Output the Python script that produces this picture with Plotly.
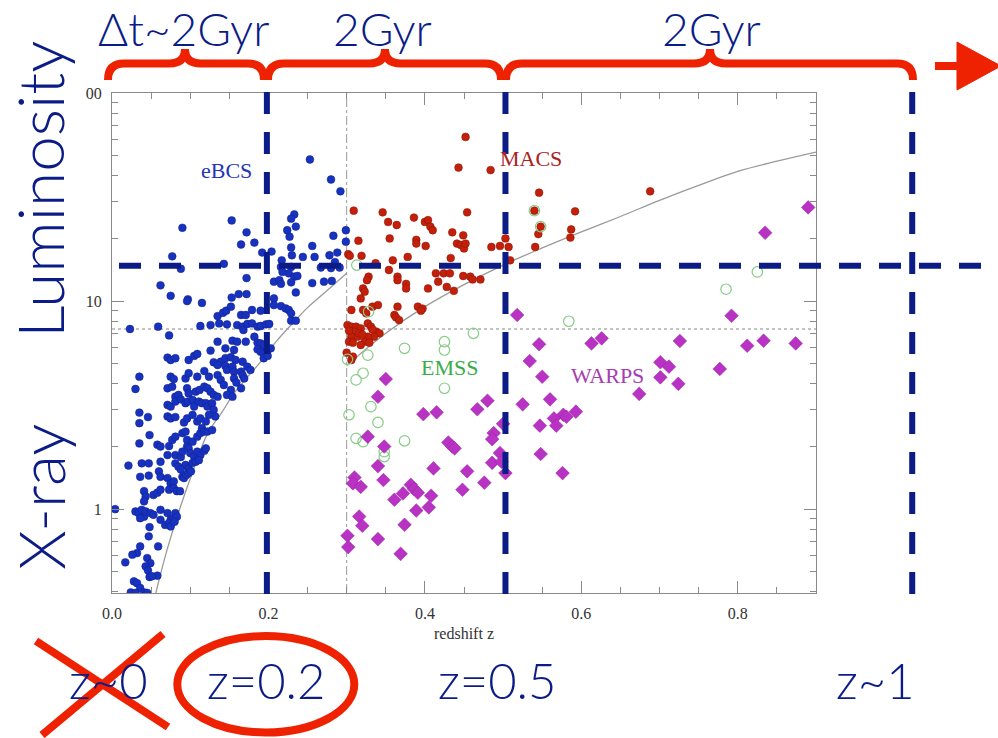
import math
import plotly.graph_objects as go

# ---------------- data (redshift z, L_X) ----------------
ebcs_points = [
    (0.253, 47.9), (0.280, 38.4), (0.292, 33.7), (0.090, 22.5), (0.153, 24.4), (0.233, 26.1), (0.229, 24.9),
    (0.235, 22.8), (0.224, 21.9), (0.172, 21.4), (0.165, 18.7), (0.182, 19.1), (0.227, 20.4), (0.256, 18.4),
    (0.283, 20.6), (0.299, 21.9), (0.299, 19.3), (0.229, 18.1), (0.192, 17.1), (0.204, 17.3), (0.077, 16.4),
    (0.088, 14.3), (0.143, 15.1), (0.217, 15.7), (0.230, 16.6), (0.244, 16.3), (0.259, 16.3), (0.278, 16.6),
    (0.288, 17.1), (0.285, 15.4), (0.280, 14.4), (0.267, 14.5), (0.291, 14.5), (0.229, 14.6), (0.226, 13.6),
    (0.233, 13.1), (0.237, 13.2), (0.216, 14.6), (0.218, 13.8), (0.172, 12.9), (0.207, 12.4), (0.214, 12.6),
    (0.216, 12.1), (0.229, 12.3), (0.256, 12.2), (0.271, 12.4), (0.281, 12.5), (0.062, 11.9), (0.075, 10.6),
    (0.097, 10.2), (0.153, 10.4), (0.162, 10.8), (0.172, 10.8), (0.235, 11.0), (0.207, 10.3),
    (0.096, 10.0), (0.115, 9.8), (0.135, 8.47), (0.142, 8.79), (0.146, 8.99), (0.152, 9.4), (0.165, 8.57),
    (0.171, 8.57), (0.179, 9.06), (0.190, 8.99), (0.207, 9.57), (0.216, 9.46), (0.222, 9.22), (0.226, 9.06),
    (0.229, 8.73), (0.229, 8.05), (0.235, 8.05),
    (0.023, 7.34), (0.059, 7.53), (0.113, 7.59), (0.126, 7.67), (0.137, 7.81), (0.147, 7.73), (0.160, 7.67),
    (0.167, 7.53), (0.168, 7.26), (0.173, 7.76), (0.179, 7.81), (0.186, 7.53), (0.190, 7.59), (0.197, 7.73),
    (0.201, 7.76),
    (0.073, 6.84), (0.135, 6.38), (0.154, 6.45), (0.160, 6.38), (0.171, 6.38), (0.182, 6.74), (0.186, 6.31),
    (0.190, 6.26), (0.194, 6.15),
    (0.126, 5.78), (0.145, 5.93), (0.156, 5.82), (0.186, 5.86), (0.190, 5.71), (0.194, 5.61), (0.199, 5.82),
    (0.203, 5.93),
    (0.071, 5.35), (0.075, 5.21), (0.081, 5.31), (0.098, 5.21), (0.105, 5.45), (0.109, 5.57), (0.139, 5.11),
    (0.145, 5.31), (0.152, 5.37), (0.158, 5.21), (0.167, 5.11), (0.173, 4.84), (0.177, 4.67), (0.194, 5.31),
    (0.199, 5.45),
    (0.130, 5.08), (0.135, 4.93), (0.145, 4.88), (0.147, 4.67), (0.154, 4.84), (0.156, 4.58), (0.165, 4.58),
    (0.167, 4.41), (0.169, 4.25),
    (0.035, 4.33), (0.030, 3.78), (0.075, 4.33), (0.079, 4.22), (0.094, 4.25), (0.098, 4.5), (0.109, 4.33),
    (0.118, 4.61), (0.124, 4.33), (0.135, 4.41), (0.139, 4.18), (0.143, 3.95), (0.156, 4.25), (0.159, 4.06),
    (0.165, 3.81), (0.152, 3.74), (0.147, 3.54), (0.154, 3.47),
    (0.071, 3.81), (0.077, 3.88), (0.081, 3.47), (0.085, 3.54), (0.096, 3.81), (0.098, 3.6), (0.107, 3.67),
    (0.112, 3.74), (0.118, 3.88), (0.122, 3.81), (0.126, 3.67), (0.130, 3.54), (0.135, 3.47),
    (0.071, 3.17), (0.075, 3.11), (0.081, 3.29), (0.088, 3.37), (0.094, 3.23), (0.097, 3.29), (0.103, 3.35),
    (0.105, 3.11), (0.111, 3.29), (0.115, 3.23), (0.120, 3.23), (0.122, 3.11), (0.128, 3.23), (0.130, 3.0),
    (0.132, 2.79),
    (0.035, 2.91), (0.046, 2.77), (0.035, 2.59), (0.071, 2.79), (0.075, 2.73), (0.081, 2.77), (0.092, 2.61),
    (0.096, 2.73), (0.103, 2.84), (0.109, 2.64), (0.113, 2.73), (0.120, 2.64), (0.124, 2.84),
    (0.048, 2.27), (0.035, 2.07), (0.058, 2.04), (0.062, 2.0), (0.073, 2.01), (0.077, 2.15), (0.081, 2.23),
    (0.090, 2.32), (0.094, 2.36), (0.096, 2.15), (0.096, 2.0), (0.103, 2.11), (0.109, 2.23), (0.113, 2.32),
    (0.115, 2.45), (0.118, 2.36), (0.122, 2.36), (0.128, 2.4),
    (0.081, 1.82), (0.088, 1.78), (0.071, 1.82), (0.081, 1.66), (0.090, 1.89), (0.098, 1.96), (0.100, 1.86),
    (0.105, 1.79), (0.109, 1.89), (0.113, 1.82), (0.118, 1.91), (0.120, 1.96),
    (0.021, 1.62), (0.038, 1.66), (0.047, 1.66), (0.062, 1.69), (0.085, 1.6), (0.094, 1.63), (0.098, 1.57),
    (0.103, 1.67), (0.107, 1.69), (0.111, 1.72),
    (0.036, 1.43), (0.047, 1.45), (0.060, 1.52), (0.062, 1.43), (0.071, 1.41), (0.075, 1.33), (0.079, 1.36),
    (0.088, 1.55), (0.090, 1.43), (0.092, 1.41), (0.095, 1.46), (0.098, 1.49), (0.101, 1.52),
    (0.041, 1.22), (0.043, 1.15), (0.041, 1.09), (0.053, 1.17), (0.058, 1.2), (0.062, 1.24), (0.073, 1.24),
    (0.079, 1.26), (0.083, 1.22), (0.087, 1.22),
    (0.004, 1.0), (0.030, 0.975), (0.034, 0.957), (0.038, 0.993), (0.041, 0.92), (0.043, 0.975), (0.049, 0.957),
    (0.053, 0.94), (0.062, 0.993), (0.071, 0.957), (0.075, 0.889), (0.079, 0.905), (0.081, 0.957), (0.083, 0.92),
    (0.036, 0.905), (0.048, 0.82), (0.062, 0.889), (0.068, 0.84), (0.073, 0.857), (0.075, 0.826), (0.080, 0.87),
    (0.036, 0.662), (0.059, 0.662), (0.047, 0.74), (0.045, 0.582), (0.049, 0.55), (0.032, 0.615), (0.026, 0.604),
    (0.017, 0.555), (0.043, 0.531), (0.046, 0.508), (0.048, 0.472), (0.058, 0.479), (0.051, 0.476),
    (0.028, 0.45), (0.032, 0.441), (0.036, 0.418), (0.024, 0.398), (0.030, 0.396), (0.041, 0.398), (0.045, 0.396),
]

macs_points = [
    (0.452, 61.5), (0.443, 43.8), (0.484, 42.6), (0.546, 33.2), (0.309, 27.2), (0.346, 26.7), (0.353, 24.0),
    (0.364, 23.2), (0.386, 25.2), (0.400, 24.0), (0.404, 24.5), (0.407, 22.8), (0.410, 21.9), (0.454, 26.7),
    (0.435, 21.4), (0.449, 20.7), (0.592, 27.0), (0.315, 19.5), (0.355, 20.0), (0.389, 19.7), (0.389, 18.9),
    (0.401, 18.4), (0.441, 18.9), (0.446, 18.6), (0.450, 17.9), (0.452, 18.9), (0.485, 18.2), (0.496, 18.4),
    (0.503, 20.0), (0.507, 18.2), (0.541, 18.2), (0.545, 21.0), (0.586, 20.2), (0.302, 16.8), (0.304, 16.5),
    (0.319, 16.5), (0.378, 16.3), (0.433, 16.1), (0.509, 15.7), (0.337, 15.2), (0.359, 15.7), (0.354, 14.1),
    (0.365, 13.1), (0.365, 12.6), (0.376, 12.1), (0.376, 11.5), (0.404, 11.5), (0.414, 13.6), (0.424, 13.6),
    (0.432, 13.6), (0.417, 12.4), (0.428, 11.7), (0.437, 11.2), (0.449, 13.2), (0.458, 13.1), (0.461, 12.7),
    (0.471, 12.7), (0.328, 13.1), (0.326, 12.6), (0.321, 11.5), (0.323, 11.1), (0.318, 10.3),
    (0.540, 27.2), (0.548, 22.8), (0.587, 22.1), (0.688, 33.7),
    (0.306, 9.06), (0.321, 9.06), (0.325, 8.73), (0.333, 9.4), (0.340, 9.57), (0.365, 9.4), (0.361, 8.57),
    (0.363, 8.35), (0.367, 8.1), (0.391, 9.4), (0.397, 9.2), (0.395, 8.99), (0.301, 7.67), (0.306, 7.53),
    (0.312, 7.53), (0.318, 7.39), (0.327, 7.81), (0.331, 7.53), (0.338, 7.13), (0.342, 7.0), (0.335, 6.74),
    (0.327, 6.74), (0.323, 6.38), (0.318, 6.15), (0.310, 7.13), (0.306, 6.74), (0.303, 6.38), (0.308, 6.31),
    (0.329, 6.31), (0.314, 6.74), (0.300, 5.65), (0.306, 5.21), (0.308, 5.41), (0.303, 7.2), (0.316, 7.0),
    (0.320, 6.9), (0.333, 7.3),
]

emss_points = [
    (0.301, 5.25), (0.327, 5.5), (0.312, 4.18), (0.321, 4.5), (0.331, 3.11), (0.340, 2.61), (0.303, 2.84),
    (0.312, 2.19), (0.321, 2.11), (0.348, 1.89), (0.348, 1.79), (0.374, 2.13), (0.374, 5.93), (0.425, 6.38),
    (0.425, 5.82), (0.462, 7.0), (0.425, 3.81), (0.584, 8.0), (0.313, 14.9), (0.540, 27.2), (0.548, 22.8),
    (0.825, 13.8), (0.785, 11.4), (0.328, 8.9),
]

warps_points = [
    (0.518, 8.57), (0.546, 6.2), (0.534, 5.15), (0.550, 4.33), (0.350, 4.22), (0.340, 3.47), (0.398, 2.86),
    (0.415, 2.92), (0.467, 3.02), (0.480, 3.32), (0.525, 3.19), (0.560, 3.37), (0.593, 2.94), (0.565, 2.73),
    (0.577, 2.84), (0.581, 2.78), (0.568, 2.52), (0.547, 2.52), (0.500, 2.57), (0.488, 2.32), (0.486, 2.17),
    (0.327, 2.23), (0.348, 2.0), (0.430, 2.09), (0.435, 2.0), (0.438, 1.96), (0.496, 1.86), (0.486, 1.67),
    (0.498, 1.69), (0.503, 1.49), (0.548, 1.84), (0.576, 1.49), (0.340, 1.61), (0.411, 1.57), (0.454, 1.52),
    (0.347, 1.38), (0.310, 1.42), (0.308, 1.33), (0.318, 1.28), (0.476, 1.34), (0.448, 1.24), (0.382, 1.31),
    (0.386, 1.25), (0.391, 1.2), (0.372, 1.19), (0.361, 1.11), (0.408, 1.16), (0.405, 1.02), (0.389, 0.985),
    (0.316, 0.922), (0.320, 0.832), (0.374, 0.841), (0.340, 0.718), (0.301, 0.745), (0.302, 0.657),
    (0.369, 0.61),
    (0.792, 8.5), (0.613, 6.26), (0.626, 6.62), (0.726, 6.43), (0.812, 6.1), (0.833, 6.45), (0.874, 6.26),
    (0.701, 5.08), (0.712, 4.84), (0.701, 4.3), (0.724, 4.0), (0.777, 4.72), (0.674, 3.58),
    (0.890, 28.2), (0.835, 21.3),
]

# flux-limit curves
ebcs_limit_z = [0.056, 0.07, 0.0876, 0.10, 0.122, 0.14, 0.156, 0.175, 0.19, 0.21, 0.232, 0.25, 0.271, 0.30]
ebcs_limit_l = [0.395, 0.63, 1.03, 1.40, 2.3, 2.9, 3.6, 4.4, 5.1, 6.4, 7.9, 9.3, 10.9, 13.6]
macs_limit_z = [0.30, 0.35, 0.40, 0.45, 0.50, 0.55, 0.60, 0.65, 0.70, 0.75, 0.80, 0.85, 0.90]
macs_limit_l = [4.9, 7.0, 9.4, 12.0, 14.9, 18.0, 21.5, 25.5, 30.5, 36.0, 42.0, 47.0, 52.0]
lum_floor = 7.34          # dotted horizontal line
macs_zmin = 0.30          # dash-dot vertical line

# overlay values
epoch_z = [0.198, 0.503, 1.023]    # navy dashed verticals
lum_cut = 14.8                     # navy dashed horizontal
epoch_labels = ["z~0", "z=0.2", "z=0.5", "z~1"]
interval_labels = ["Δt~2Gyr", "2Gyr", "2Gyr"]

x_tickvals = [0.0, 0.2, 0.4, 0.6, 0.8]
x_ticktext = ["0.0", "0.2", "0.4", "0.6", "0.8"]
y_tickvals = [1, 10, 100]
y_ticktext = ["1", "10", "00"]
y_minor = [0.4, 0.5, 0.6, 0.7, 0.8, 0.9, 2, 3, 4, 5, 6, 7, 8, 9, 20, 30, 40, 50, 60, 70, 80, 90]

XMAX = 0.9
YMIN, YMAX = -0.403, 2.0

# ---------------- figure ----------------
NAVY = "#0b1c86"
RED = "#ee2200"
GREY = "#8a8a8a"

def unzip(pts):
    return [p[0] for p in pts], [p[1] for p in pts]

fig = go.Figure()

fig.add_trace(go.Scatter(x=[0, XMAX], y=[lum_floor, lum_floor], mode="lines",
                         line=dict(color="#b0b0b0", width=1.6, dash="dot"), hoverinfo="skip"))
fig.add_trace(go.Scatter(x=[macs_zmin, macs_zmin], y=[10 ** YMIN, 10 ** YMAX], mode="lines",
                         line=dict(color="#9a9a9a", width=1, dash="dashdot"), hoverinfo="skip"))
fig.add_trace(go.Scatter(x=ebcs_limit_z, y=ebcs_limit_l, mode="lines", line_shape="spline",
                         line=dict(color="#9a9a9a", width=1.3), hoverinfo="skip"))
fig.add_trace(go.Scatter(x=macs_limit_z, y=macs_limit_l, mode="lines", line_shape="spline",
                         line=dict(color="#9a9a9a", width=1.3), hoverinfo="skip"))

zx, lx = unzip(ebcs_points)
fig.add_trace(go.Scatter(x=zx, y=lx, mode="markers", name="eBCS",
                         marker=dict(symbol="circle", size=7.8, color="#1832c0",
                                     line=dict(color="#10208a", width=0.5))))
zx, lx = unzip(macs_points)
fig.add_trace(go.Scatter(x=zx, y=lx, mode="markers", name="MACS",
                         marker=dict(symbol="circle", size=7.8, color="#c2200a",
                                     line=dict(color="#8a1405", width=0.5))))
zx, lx = unzip(emss_points)
fig.add_trace(go.Scatter(x=zx, y=lx, mode="markers", name="EMSS",
                         marker=dict(symbol="circle-open", size=10.5, color="#86cc86",
                                     line=dict(color="#86cc86", width=1.2))))
zx, lx = unzip(warps_points)
fig.add_trace(go.Scatter(x=zx, y=lx, mode="markers", name="WARPS",
                         marker=dict(symbol="diamond", size=10.5, color="#b832c4",
                                     line=dict(color="#9a209f", width=0.5))))

serif = "Liberation Serif"
sans = "Lato, Liberation Sans, sans-serif"
wt = 300

# survey labels (log axis -> annotation y in log10 units)
for txt, z, L, col in [("eBCS", 0.147, 42.6, "#2435b8"), ("MACS", 0.536, 48.6, "#a82222"),
                       ("EMSS", 0.432, 4.77, "#38ad48"), ("WARPS", 0.633, 4.41, "#a63cb3")]:
    fig.add_annotation(x=z, y=math.log10(L), xref="x", yref="y", text=txt, showarrow=False,
                       font=dict(family=serif, size=22, color=col))

# ---------------- overlay (paper coordinates) ----------------
def PX(X):
    return (X - 112) / 704.0

def PY(Y):
    return (593 - Y) / 500.0

def xp(z):
    return z / XMAX

def yp(L):
    return (math.log10(L) - YMIN) / (YMAX - YMIN)

shapes = []
for z in epoch_z:
    shapes.append(dict(type="line", xref="paper", yref="paper", x0=xp(z), x1=xp(z), y0=-0.002, y1=1.005,
                       line=dict(color=NAVY, width=6, dash="22px,18px"), layer="above"))
shapes.append(dict(type="line", xref="paper", yref="paper", x0=PX(119), x1=PX(1000), y0=yp(lum_cut),
                   y1=yp(lum_cut), line=dict(color=NAVY, width=6, dash="22px,18px"), layer="above"))

def brace(x0, x1, xm, yb=80, ym=63.5, yt=49, r=16):
    pts = [("M", [(x0, yb)]), ("Q", [(x0, ym), (x0 + r, ym)]), ("L", [(xm - r, ym)]),
           ("Q", [(xm, ym), (xm, yt)]), ("Q", [(xm, ym), (xm + r, ym)]), ("L", [(x1 - r, ym)]),
           ("Q", [(x1, ym), (x1, yb)])]
    s = ""
    for cmd, cs in pts:
        s += cmd + " " + " ".join("%.5f,%.5f" % (PX(a), PY(b)) for a, b in cs) + " "
    return s.strip()

for x0, x1, xm in [(108, 264, 185), (268, 501, 385), (506, 913, 710)]:
    shapes.append(dict(type="path", xref="paper", yref="paper", path=brace(x0, x1, xm),
                       line=dict(color=RED, width=8), layer="above"))

# arrow
shapes.append(dict(type="line", xref="paper", yref="paper", x0=PX(935), x1=PX(962), y0=PY(66), y1=PY(66),
                   line=dict(color=RED, width=8), layer="above"))
shapes.append(dict(type="path", xref="paper", yref="paper",
                   path="M %.5f,%.5f L %.5f,%.5f L %.5f,%.5f Z" % (PX(957), PY(42), PX(1001), PY(66), PX(957), PY(90)),
                   fillcolor=RED, line=dict(color=RED, width=1), layer="above"))
# cross over z~0
shapes.append(dict(type="line", xref="paper", yref="paper", x0=PX(36), y0=PY(641), x1=PX(168), y1=PY(727),
                   line=dict(color=RED, width=8), layer="above"))
shapes.append(dict(type="line", xref="paper", yref="paper", x0=PX(163), y0=PY(634), x1=PX(42), y1=PY(735),
                   line=dict(color=RED, width=8), layer="above"))
# ellipse round z=0.2
shapes.append(dict(type="circle", xref="paper", yref="paper", x0=PX(177.3), x1=PX(354.3), y0=PY(732.5),
                   y1=PY(636), line=dict(color=RED, width=8), layer="above"))

annots = []
for txt, X in zip(interval_labels, [183, 382, 711]):
    annots.append(dict(x=PX(X), y=PY(28), xref="paper", yref="paper", text=txt, showarrow=False,
                       xanchor="center", yanchor="middle", font=dict(family=sans, size=46, color=NAVY, weight=wt)))
for txt, X in zip(epoch_labels, [108, 266, 497, 875]):
    annots.append(dict(x=PX(X), y=PY(680), xref="paper", yref="paper", text=txt, showarrow=False,
                       xanchor="center", yanchor="middle", font=dict(family=sans, size=49, color=NAVY, weight=wt)))
annots.append(dict(x=PX(40), y=PY(497), xref="paper", yref="paper", text="X-ray", showarrow=False,
                   textangle=-90, xanchor="center", yanchor="middle",
                   font=dict(family=sans, size=64, color=NAVY, weight=wt)))
annots.append(dict(x=PX(40), y=PY(190), xref="paper", yref="paper", text="Luminosity", showarrow=False,
                   textangle=-90, xanchor="center", yanchor="middle",
                   font=dict(family=sans, size=64, color=NAVY, weight=wt)))
for a in annots:
    fig.add_annotation(**a)

fig.update_layout(
    width=998, height=738, margin=dict(l=112, r=182, t=93, b=145),
    paper_bgcolor="white", plot_bgcolor="white", showlegend=False, shapes=shapes,
)
fig.update_xaxes(range=[0, XMAX], tickvals=x_tickvals, ticktext=x_ticktext, ticks="inside", ticklen=12,
                 tickcolor=GREY, showline=True, linecolor=GREY, linewidth=1, mirror="ticks", showgrid=False,
                 zeroline=False, ticklabelstandoff=6,
                 tickfont=dict(family=serif, size=16, color="#333"),
                 minor=dict(ticks="inside", ticklen=6, dtick=0.05, tick0=0, tickcolor=GREY, showgrid=False),
                 title=dict(text="redshift z", font=dict(family=serif, size=16, color="#333"), standoff=6))
fig.update_yaxes(type="log", range=[YMIN, YMAX], tickvals=y_tickvals, ticktext=y_ticktext, ticks="inside",
                 ticklen=12, tickcolor=GREY, showline=True, linecolor=GREY, linewidth=1, mirror="ticks",
                 showgrid=False, zeroline=False, ticklabelstandoff=6,
                 tickfont=dict(family=serif, size=16, color="#333"),
                 minor=dict(ticks="inside", ticklen=6, tickvals=y_minor, tickcolor=GREY, showgrid=False))

fig.write_html("out.html")
